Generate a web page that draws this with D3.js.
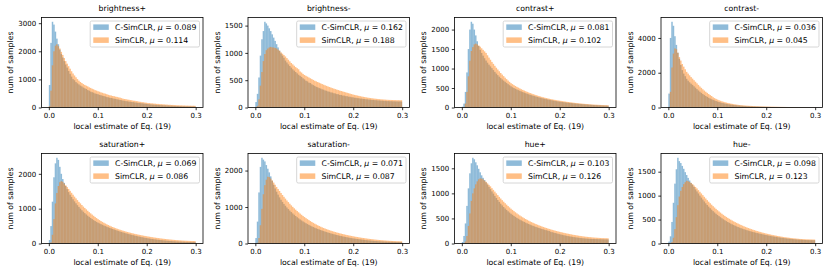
<!DOCTYPE html>
<html lang="en">
<head>
<meta charset="UTF-8">
<script src="https://d3js.org/d3.v7.min.js"></script>
<style>
  body { margin: 0; background: #fff; }
  svg { display: block; font-family: "DejaVu Sans", sans-serif; }
</style>
</head>
<body>
<svg id="chart" width="830" height="272"></svg>
<script>
// panel titles, legend means and y ticks
const titles = ["brightness+", "brightness-", "contrast+", "contrast-",
                "saturation+", "saturation-", "hue+", "hue-"];
const muC = ["0.089", "0.162", "0.081", "0.036", "0.069", "0.071", "0.103", "0.098"];
const muS = ["0.114", "0.188", "0.102", "0.045", "0.086", "0.087", "0.126", "0.123"];
const yTicks = [[0, 1000, 2000, 3000], [0, 500, 1000, 1500], [0, 500, 1000, 1500, 2000], [0, 2000, 4000],
                [0, 1000, 2000], [0, 1000, 2000], [0, 500, 1000, 1500], [0, 500, 1000, 1500]];
const xTicks = [0, 0.1, 0.2, 0.3];
const binWidth = 0.003; // 100 bins over [0, 0.3]

// C-SimCLR counts per bin, one list per panel
const countsC = [
  [800,2300,3050,2950,2700,2450,2250,2060,1900,1780,1650,1530,1420,1300,1200,1100,1010,970,905,860,
   822,780,752,710,684,658,620,598,566,545,528,498,485,472,448,437,418,406,392,371,
   362,347,338,327,312,306,290,282,268,259,245,238,226,221,210,206,195,191,180,176,
   166,161,153,149,140,136,127,123,115,111,104,102,96,94,89,87,82,81,76,75,
   70,69,64,63,59,58,54,54,50,49,47,45,44,42,41,40,38,37,36,35],
  [100,250,550,950,1250,1400,1570,1540,1500,1450,1400,1340,1280,1220,1160,1100,1040,990,950,910,
   860,825,790,760,730,700,675,650,625,600,580,560,535,515,490,478,455,448,425,410,
   396,378,370,355,348,333,327,312,307,293,289,276,273,261,257,245,243,231,230,219,
   218,208,207,198,197,188,187,179,178,171,170,163,163,156,156,150,150,144,144,139,
   138,134,133,129,129,125,125,121,121,117,118,115,116,113,114,111,112,109,111,108],
  [20,100,400,900,1500,2000,2200,2150,2000,1850,1700,1580,1480,1400,1330,1265,1205,1150,1100,1055,
   1010,960,915,870,830,790,755,720,690,660,630,600,572,545,520,500,480,462,445,428,
   412,396,381,367,353,340,327,315,303,292,281,270,260,250,240,231,222,214,206,198,
   190,183,176,169,163,157,151,146,141,136,131,126,121,117,113,109,105,101,97,94,
   90,87,84,81,78,75,72,69,67,64,62,60,58,56,54,52,50,48,46,44],
  [800,4000,4930,4700,4100,3600,3150,2800,2450,2150,1950,1800,1650,1540,1450,1370,1300,1220,1140,1060,
   980,910,840,775,715,660,610,560,515,475,440,405,372,342,315,290,268,248,230,213,
   197,182,168,156,145,135,126,117,109,102,95,89,83,78,73,68,64,60,56,53,
   50,47,44,42,40,38,36,34,32,30,29,27,26,25,24,23,22,21,20,19,
   18,17,16,15,15,14,13,13,12,12,11,11,10,10,9,9,9,8,8,8],
  [100,500,1200,1900,2300,2460,2400,2200,2000,1850,1740,1650,1560,1475,1400,1335,1270,1210,1155,1100,
   1050,1000,955,912,872,834,798,764,732,702,672,645,620,598,577,556,536,517,499,482,
   465,448,432,416,401,386,371,357,343,330,317,305,293,281,270,259,248,238,228,218,
   208,199,190,181,172,164,156,149,142,135,129,123,117,111,106,101,96,91,87,83,
   79,75,72,69,66,63,60,57,55,53,51,49,47,45,44,43,42,41,40,40],
  [150,600,1400,2100,2350,2300,2250,2150,2050,1950,1840,1720,1610,1510,1420,1340,1265,1200,1140,1085,
   1035,988,944,902,862,824,788,754,721,690,660,632,605,580,556,533,511,490,470,451,
   433,416,400,384,369,354,340,326,313,300,288,276,265,254,243,233,223,213,204,195,
   186,178,170,162,155,148,141,135,129,123,117,112,107,102,97,92,88,84,80,76,
   72,69,66,63,60,57,55,53,51,49,47,46,45,44,43,42,41,40,40,39],
  [30,150,400,750,1100,1400,1600,1710,1680,1620,1560,1490,1420,1360,1310,1265,1220,1175,1130,1085,
   1040,995,950,908,868,830,794,760,728,698,670,643,618,594,572,551,531,512,494,477,
   461,445,430,416,402,389,376,364,352,341,330,320,310,300,291,282,273,265,257,249,
   235,226,218,210,202,194,186,179,172,165,159,153,147,142,137,132,127,123,119,115,
   111,108,105,102,99,97,95,93,91,90,89,88,87,86,85,84,83,82,82,81],
  [40,150,450,850,1250,1550,1790,1720,1680,1620,1560,1490,1430,1370,1315,1265,1225,1180,1130,1088,
   1045,1000,958,918,878,840,804,770,737,706,676,648,621,596,572,549,527,506,486,467,
   449,432,416,400,385,371,357,344,332,320,309,298,288,278,268,259,250,242,234,226,
   218,211,204,197,190,183,177,171,165,159,153,147,142,137,132,127,122,118,114,110,
   106,102,99,96,93,90,87,84,81,79,77,75,74,73,72,71,70,70,69,69]
];

// SimCLR counts per bin, one list per panel
const countsS = [
  [50,600,1500,2000,2200,2250,2180,2100,1980,1870,1760,1650,1560,1470,1380,1290,1210,1140,1075,1010,
   955,908,872,833,803,776,752,718,697,668,648,618,602,578,563,538,524,503,492,473,
   452,436,427,410,402,386,377,360,352,333,314,303,297,283,277,263,257,243,240,228,
   222,208,202,190,186,174,170,158,157,148,147,138,137,128,128,120,120,112,112,104,
   104,96,97,90,91,84,85,78,80,74,76,70,72,66,68,63,65,60,63,59],
  [0,30,150,400,650,850,980,1050,1080,1100,1110,1100,1100,1090,1080,1060,1040,1010,985,960,
   935,905,875,845,815,790,765,740,720,700,660,640,615,595,580,565,550,535,520,505,
   490,478,466,454,442,430,418,407,396,385,375,365,355,346,337,328,319,310,302,294,
   286,278,270,262,254,246,238,231,225,219,213,207,201,196,191,186,181,177,173,169,
   165,162,159,156,153,150,148,146,144,142,140,139,138,137,136,135,134,134,133,133],
  [0,5,100,400,800,1200,1450,1550,1620,1640,1620,1590,1560,1520,1480,1440,1400,1340,1280,1225,
   1170,1120,1070,1020,975,930,885,845,805,765,728,692,658,625,600,575,552,530,510,490,
   470,452,435,418,402,387,372,358,344,331,318,306,294,283,272,262,252,243,234,225,
   217,209,202,195,188,182,176,170,164,158,152,146,141,136,131,126,121,117,113,109,
   105,101,97,94,91,88,85,82,79,76,74,72,70,68,66,64,62,61,60,58],
  [30,900,2300,3100,3400,3350,3150,2900,2700,2500,2350,2200,2050,1950,1850,1750,1660,1570,1480,1390,
   1300,1210,1130,1050,975,905,840,775,715,660,590,540,495,455,420,388,358,331,306,283,
   262,243,225,208,193,179,166,154,143,133,126,119,112,106,100,95,90,86,82,78,
   75,72,69,66,63,60,58,55,53,51,49,47,45,43,41,39,37,35,34,32,
   30,29,27,26,25,23,22,21,20,19,18,17,16,15,15,14,13,13,12,12],
  [0,30,250,700,1150,1450,1650,1760,1790,1770,1720,1670,1620,1565,1510,1455,1400,1345,1295,1245,
   1195,1150,1105,1060,1020,980,940,900,865,830,795,762,730,700,672,645,620,596,573,551,
   530,510,491,473,456,440,424,409,395,381,368,355,343,331,320,309,298,288,278,268,
   259,250,241,233,225,217,209,202,195,188,181,174,168,162,156,150,144,139,134,129,
   124,119,115,111,107,103,99,95,92,89,86,83,81,79,77,75,73,72,71,70],
  [0,20,150,500,950,1350,1600,1750,1830,1820,1780,1730,1670,1610,1550,1495,1440,1385,1330,1280,
   1230,1180,1135,1090,1045,1005,965,927,890,855,820,787,755,725,696,668,641,615,590,566,
   543,521,500,480,461,443,426,410,394,379,365,351,338,326,314,302,291,280,270,260,
   250,241,232,223,215,207,199,191,184,177,170,163,157,151,145,139,133,128,123,118,
   113,108,104,100,96,92,88,85,82,79,76,73,71,69,67,65,63,62,61,60],
  [0,5,40,150,350,600,850,1000,1100,1180,1240,1280,1300,1295,1280,1255,1230,1200,1170,1140,
   1105,1070,1035,1000,965,930,897,865,834,804,775,747,720,694,670,646,623,601,580,560,
   541,523,505,488,472,456,441,427,413,400,387,375,363,352,341,330,320,310,300,291,
   282,273,265,257,249,241,234,227,220,213,206,200,194,188,182,176,171,166,161,156,
   151,147,143,139,135,132,129,126,123,120,118,116,114,112,110,108,107,106,105,104],
  [0,5,30,120,300,550,800,980,1100,1180,1240,1280,1310,1300,1285,1265,1240,1210,1180,1150,
   1115,1080,1045,1010,975,940,906,873,841,810,780,751,723,696,670,645,621,598,576,555,
   535,516,498,480,463,447,431,416,401,387,373,360,347,335,323,312,301,290,280,270,
   260,251,242,233,225,217,209,202,195,188,181,175,169,163,157,151,146,141,136,131,
   127,123,119,115,111,108,105,102,99,96,94,92,90,88,87,86,85,84,83,82]
];

const svg = d3.select('#chart');
const colLeft = [41.5, 248, 454.5, 661];
const rowTop = [17.5, 153.5];
const W = 161.5, H = 90;
const blue = '#1f77b4', orange = '#ff7f0e';
const labelFont = 7.75, titleFont = 7.75, legFont = 7.75, tickFont = 7.0;

titles.forEach((title, k) => {
  const left = colLeft[k % 4], top = rowTop[Math.floor(k / 4)];
  const g = svg.append('g').attr('transform', `translate(${left},${top})`);

  const x = d3.scaleLinear().domain([-0.015, 0.315]).range([0, W]);
  const ymax = d3.max(countsC[k].concat(countsS[k])) * 1.05;
  const y = d3.scaleLinear().domain([0, ymax]).range([H, 0]);

  // histogram bars, C-SimCLR first then SimCLR on top
  [[countsC[k], blue], [countsS[k], orange]].forEach(([counts, col]) => {
    g.append('g').selectAll('rect').data(counts).join('rect')
      .attr('x', (d, i) => x(i * binWidth))
      .attr('width', (d, i) => x((i + 1) * binWidth) - x(i * binWidth))
      .attr('y', d => y(d))
      .attr('height', d => H - y(d))
      .attr('fill', col)
      .attr('fill-opacity', 0.5);
  });

  const xa = g.append('g').attr('transform', `translate(0,${H})`)
    .call(d3.axisBottom(x).tickValues(xTicks).tickFormat(d3.format('.1f')).tickSize(2.7).tickPadding(2.7));
  const ya = g.append('g')
    .call(d3.axisLeft(y).tickValues(yTicks[k]).tickFormat(d3.format('d')).tickSize(2.7).tickPadding(2.7));
  [xa, ya].forEach(a => {
    a.attr('font-family', null).attr('font-size', tickFont);
    a.select('.domain').remove();
    a.selectAll('line').attr('stroke', '#000').attr('stroke-width', 0.8);
    a.selectAll('text').attr('fill', '#000');
  });

  // frame
  g.append('rect').attr('width', W).attr('height', H)
    .attr('fill', 'none').attr('stroke', '#000').attr('stroke-width', 0.8);

  g.append('text').attr('x', W / 2).attr('y', -6.4)
    .attr('text-anchor', 'middle').attr('font-size', titleFont).text(title);

  g.append('text').attr('x', W / 2).attr('y', H + 21.5)
    .attr('text-anchor', 'middle').attr('font-size', labelFont).text('local estimate of Eq. (19)');

  let maxTickW = 0;
  ya.selectAll('text').each(function () { maxTickW = Math.max(maxTickW, this.getBBox().width); });
  const ylx = -5.4 - maxTickW - 3.1 - 1.8;
  g.append('text').attr('transform', `translate(${ylx},${H / 2}) rotate(-90)`)
    .attr('text-anchor', 'middle').attr('font-size', labelFont).text('num of samples');

  // legend
  const leg = g.append('g');
  const box = leg.append('rect');
  const rows = [[blue, 'C-SimCLR, ', muC[k]], [orange, 'SimCLR, ', muS[k]]];
  let textW = 0;
  rows.forEach(([col, name, mu], r) => {
    const cy = 6.2 + r * 13;
    leg.append('rect').attr('x', 3.1).attr('y', cy - 2.8).attr('width', 15.5).attr('height', 5.5)
      .attr('fill', col).attr('fill-opacity', 0.5);
    const t = leg.append('text').attr('x', 24.8).attr('y', cy + 2.9).attr('font-size', legFont);
    t.append('tspan').text(name);
    t.append('tspan').attr('font-style', 'italic').text('\u03bc');
    t.append('tspan').text(' = ' + mu);
    textW = Math.max(textW, t.node().getComputedTextLength());
  });
  const bw = textW + 27.9, bh = 26;
  box.attr('width', bw).attr('height', bh).attr('rx', 1.5)
    .attr('fill', '#fff').attr('fill-opacity', 0.8)
    .attr('stroke', '#cccccc').attr('stroke-width', 0.8);
  leg.attr('transform', `translate(${W - 3.5 - bw},3.5)`);
});
</script>
</body>
</html>
